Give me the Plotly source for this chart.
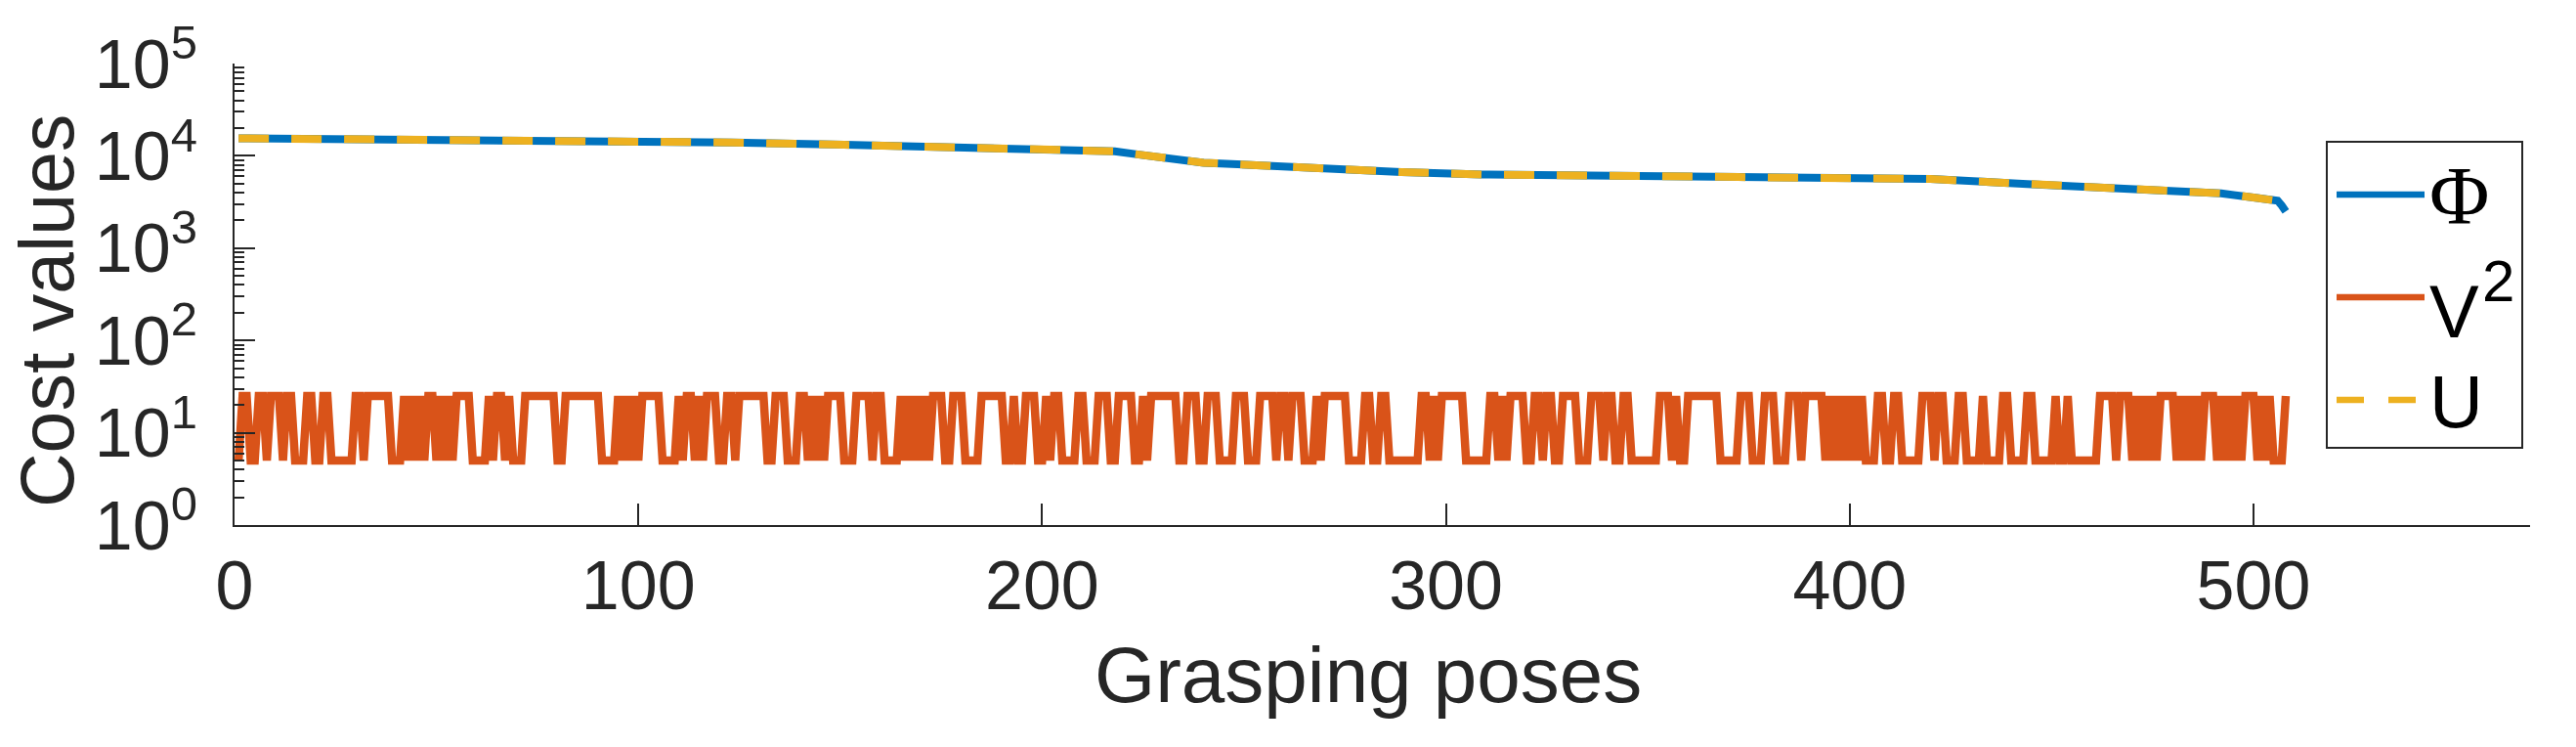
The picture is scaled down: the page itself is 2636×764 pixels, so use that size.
import plotly.graph_objects as go

# ---- data ----
phi_x = [1, 62, 123, 151, 184, 208, 218, 224, 231, 240, 257, 273, 289, 309, 350,
         387, 420, 444, 468, 492, 500, 506, 507, 508]
phi_y = [15500, 15050, 13970, 13200, 12450, 11780, 11210, 10320, 9360, 8430, 7770,
         7110, 6660, 6290, 6050, 5850, 5610, 4960, 4440, 3930, 3530, 3260, 2900, 2500]
u_x = phi_x
u_y = phi_y

# V^2 per grasping pose (1..508): H = high level, L = low level
v2_high = 25
v2_low = 5
v2_pattern = (
    "LHHLLHHLHH" "HLHHLLLHHL" "LHHLLLLLLH" "HLHHHHHHLL" "LHLHLHLHHL"
    "HLHLHHHHLL" "LLHLHHLHLL" "LHHHHHHHHL" "LHHHHHHHHH" "LLLLHLHLHL"
    "HHHHHLLLLH" "LHHLHLHHHL" "LHHLHHHHHH" "HLLHHHLLLH" "HLHLHLHHHH"
    "LLLHHHHLHH" "LLLLHLHLHL" "HLHHHLLHHH" "LLLLHHHHHH" "LLHLLHHHLL"
    "HLHHLLLLHH" "LLLHHHLLHH" "HHLLHLHHHH" "HHHLLHHHLL" "HHHLLLLHHH"
    "LLLHHHHLHH" "LHHHLLLHLH" "HHHHHLLLLH" "HLLHHLLLLL" "LLLHHLHLHH"
    "HHHHLLLLLL" "HHLHLHHHHL" "LHHLHHLLHH" "HHLLLHHHLH" "HLLHHLLLLL"
    "LLHHHLHLLH" "HHHHHHHLLL" "LLHHHLLLHH" "HLLLHHHLHH" "HHHLHLHLHL"
    "HLHLLLHHLL" "HHLLLLLHHH" "LHHLLLHHLL" "LLHLLLLHHL" "LLLHHLLLLL"
    "HLLHLLLLLL" "LHHHHLHHHL" "HLHLHLHHHH" "LHLHLHLHHH" "LHLHLHLHHH"
    "LHLHLLLH"
)
v2_x = list(range(1, len(v2_pattern) + 1))
v2_y = [v2_high if c == "H" else v2_low for c in v2_pattern]

x_ticks = [0, 100, 200, 300, 400, 500]
y_exponents = [0, 1, 2, 3, 4, 5]
legend_labels = ["Φ", "V", "U"]

# ---- style ----
BLUE = "#0072BD"
ORANGE = "#D95319"
YELLOW = "#EDB120"
INK = "#262626"
FONT = "Liberation Sans"

W, H = 2636, 764
L, R, T, B = 240, 2589, 65, 537


def px(x):
    return (x - L) / (R - L)


def py(y):
    return (B - y) / (B - T)


fig = go.Figure()
fig.add_trace(go.Scatter(x=phi_x, y=phi_y, mode="lines",
                         line=dict(color=BLUE, width=8), showlegend=False))
fig.add_trace(go.Scatter(x=v2_x, y=v2_y, mode="lines",
                         line=dict(color=ORANGE, width=8.5), showlegend=False))
fig.add_trace(go.Scatter(x=u_x, y=u_y, mode="lines",
                         line=dict(color=YELLOW, width=8, dash="31px,23px"),
                         showlegend=False))

minor_vals = [k * 10 ** e for e in range(0, 5) for k in range(2, 10)]

fig.update_layout(
    width=W, height=H,
    margin=dict(l=L, r=W - R, t=T, b=H - B, autoexpand=False),
    paper_bgcolor="white", plot_bgcolor="white",
    font=dict(family=FONT, color=INK, size=70),
    xaxis=dict(range=[0, 568.5], tickvals=x_ticks, ticks="inside", ticklen=22,
               tickwidth=2, tickcolor=INK, showline=True, linecolor=INK,
               linewidth=2, showgrid=False, zeroline=False,
               tickfont=dict(size=70, family=FONT, color=INK),
               ticklabelstandoff=0),
    yaxis=dict(type="log", range=[0, 5],
               tickvals=[10 ** e for e in y_exponents],
               ticktext=["10<sup>%d</sup>" % e for e in y_exponents],
               ticks="inside", ticklen=21, tickwidth=2, tickcolor=INK,
               showline=True, linecolor=INK, linewidth=2, showgrid=False,
               zeroline=False, tickfont=dict(size=70, family=FONT, color=INK),
               ticklabelstandoff=22,
               minor=dict(tickvals=minor_vals, ticks="inside", ticklen=10,
                          tickwidth=2, tickcolor=INK, showgrid=False)),
)

# axis titles
fig.add_annotation(text="Cost values", xref="paper", yref="paper",
                   x=px(48), y=py(318), textangle=-90, showarrow=False,
                   font=dict(size=77, family=FONT, color=INK),
                   xanchor="center", yanchor="middle")
fig.add_annotation(text="Grasping poses", xref="paper", yref="paper",
                   x=px(1400), y=py(690), showarrow=False,
                   font=dict(size=80, family=FONT, color=INK),
                   xanchor="center", yanchor="middle")

# legend (box, samples, labels)
fig.add_shape(type="rect", xref="paper", yref="paper",
              x0=px(2381), x1=px(2581), y0=py(145), y1=py(458),
              line=dict(color=INK, width=2), fillcolor="white", layer="above")
rows = [(199, BLUE, "solid"), (304, ORANGE, "solid"), (409, YELLOW, "28px,25px")]
for (yy, col, dash), lab in zip(rows, legend_labels):
    fig.add_shape(type="line", xref="paper", yref="paper",
                  x0=px(2391), x1=px(2481), y0=py(yy), y1=py(yy),
                  line=dict(color=col, width=6.5, dash=dash), layer="above")
    if lab == "Φ":
        fam, size, yc = "Liberation Serif", 84, 200
    elif lab == "V":
        fam, size, yc = FONT, 76, 318
    else:
        fam, size, yc = FONT, 76, 410
    fig.add_annotation(text=lab, xref="paper", yref="paper",
                       x=px(2484), y=py(yc), showarrow=False,
                       xanchor="left", yanchor="middle",
                       font=dict(size=size, family=fam, color="black"))
# superscript of V^2
fig.add_annotation(text="2", xref="paper", yref="paper",
                   x=px(2538), y=py(287), showarrow=False,
                   xanchor="left", yanchor="middle",
                   font=dict(size=60, family=FONT, color="black"))

fig.write_html(
    "out.html",
    config={"displayModeBar": False},
    post_script="document.body.style.margin='0';document.body.style.overflow='hidden';",
)
